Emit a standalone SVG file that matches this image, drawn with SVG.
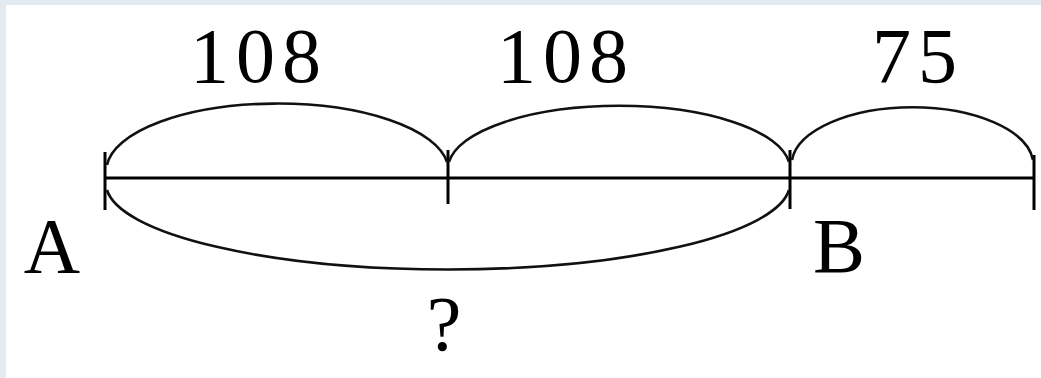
<svg xmlns="http://www.w3.org/2000/svg" width="1041" height="378" viewBox="0 0 1041 378">
<style>
.ln{stroke:#000;stroke-width:3;fill:none}
.arc{stroke:#111;stroke-width:2.6;fill:none}
.t{font-family:"Liberation Serif","DejaVu Serif",serif;font-size:78px;fill:#000;text-anchor:middle}
.d{letter-spacing:7px}
</style>
<rect x="0" y="0" width="1041" height="378" fill="#e2ebf0"/>
<rect x="6" y="5" width="1035" height="373" fill="#fff"/>
<g id="connectors">
<line class="ln" x1="105" y1="178" x2="1034" y2="178"/>
<line class="ln" x1="105" y1="152" x2="105" y2="210"/>
<line class="ln" x1="448" y1="150" x2="448" y2="204"/>
<line class="ln" x1="790" y1="150" x2="790" y2="209"/>
<line class="ln" x1="1034" y1="155" x2="1034" y2="210"/>
<path class="arc" d="M107,165 A171,67 0 0 1 447,162"/>
<path class="arc" d="M449,162 A171,63 0 0 1 789,162"/>
<path class="arc" d="M792,160 A121,58 0 0 1 1033,160"/>
<path class="arc" d="M107,190 A342,86 0 0 0 789,190"/>
</g>
<g id="n1"><text class="t d" x="259" y="82">108</text></g>
<g id="n2"><text class="t d" x="566" y="82">108</text></g>
<g id="n3"><text class="t d" x="918" y="82">75</text></g>
<g id="A"><text class="t" x="52" y="272">A</text></g>
<g id="B"><text class="t" x="839" y="272">B</text></g>
<g id="q"><text class="t" x="444" y="350">?</text></g>
</svg>
